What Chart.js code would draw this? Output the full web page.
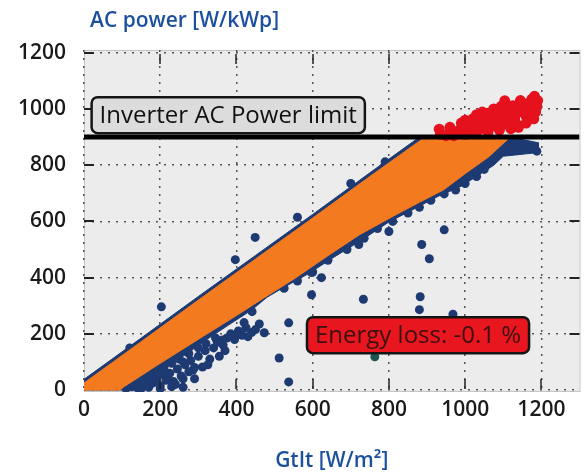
<!DOCTYPE html>
<html>
<head>
<meta charset="utf-8">
<script src="https://cdn.jsdelivr.net/npm/chart.js@4"></script>
<style>
  body { margin: 0; background: #fff; }
  #wrap { width: 585px; height: 475px; }
</style>
</head>
<body>
<div id="wrap"><canvas id="scatterChart" width="585" height="475"></canvas></div>
<script>
// tick values on both axes
const xTicks = [0, 200, 400, 600, 800, 1000, 1200];
const yTicks = [0, 200, 400, 600, 800, 1000, 1200];
const powerLimit = 900;

// outline of the dense orange band (upper edge, then lower edge back)
const orangeUpper = [[0, 25], [150, 172], [300, 320], [450, 466], [600, 612], [750, 760], [895, 900]];
const orangeLower = [[1118, 900], [1062, 830], [1000, 770], [943, 712], [880, 668], [813, 620], [722, 552], [640, 478],
    [552, 396], [480, 335], [400, 265], [311, 190], [200, 95], [104, 11], [95, 0], [0, 0]];

// outline of the blue points lying under the orange band
const blueUpper = [[0, 38], [150, 185], [300, 333], [450, 479], [600, 625], [750, 773], [880, 900]];
const blueLower = [[1118, 900], [1192, 880], [1192, 845], [1100, 832], [1075, 800], [1030, 760], [985, 722], [930, 690],
    [860, 640], [800, 598], [730, 535], [650, 468], [590, 415], [520, 362], [480, 330], [440, 285], [380, 232],
    [320, 178], [260, 120], [180, 50], [120, 0], [0, 0]];

// single blue points: band edges, lower branch and outliers
const blueEdge = [[203, 296], [397, 464], [560, 615], [120, 150], [700, 735], [790, 812],
    [525, 362], [560, 388], [600, 420], [640, 462], [690, 500], [735, 540], [770, 575], [810, 600], [850, 630],
    [880, 650], [910, 675], [945, 698], [975, 712], [1000, 735], [1030, 760], [1050, 785], [1085, 835],
    [1100, 850], [1120, 858], [1140, 852], [1160, 860], [1180, 865], [1188, 850]];
const blueBranch = [[110, 5], [125, 12], [140, 8], [150, 20], [160, 30], [170, 10], [180, 25], [190, 40], [200, 15],
    [205, 55], [215, 35], [225, 60], [235, 30], [245, 75], [255, 50], [265, 90], [275, 65], [280, 105], [290, 80],
    [300, 120], [311, 82], [318, 140], [330, 110], [340, 150], [350, 170], [355, 120], [365, 160], [375, 185],
    [385, 200], [395, 180], [405, 210], [415, 195], [425, 222], [440, 205], [450, 215], [473, 204], [290, 40],
    [240, 20], [260, 10], [200, 5], [286, 71], [180, 48], [363, 178], [430, 190], [400, 195], [370, 140],
    [325, 90], [260, 40], [230, 12], [150, 5], [130, 20], [145, 35], [165, 45], [185, 65], [210, 80], [230, 95],
    [250, 110], [195, 70], [220, 50], [170, 55], [300, 150], [275, 130], [320, 165], [260, 100], [345, 185],
    [460, 235], [420, 240]];
const blueOutliers = [[441, 279], [408, 275], [449, 543], [537, 239], [512, 114], [537, 29], [597, 339], [597, 418],
    [623, 400], [721, 518], [800, 564], [945, 570], [886, 518], [906, 467], [733, 323], [882, 332], [880, 286],
    [968, 270]];
const tealPoints = [[763, 118]];

// red points above the inverter limit
const redPoints = [[935, 910], [960, 918], [985, 925], [1005, 935], [1025, 945], [1045, 958], [1065, 970], [1085, 985],
    [1105, 1000], [1125, 1012], [1150, 1020], [1175, 1035], [1182, 1045], [970, 905], [1000, 910], [1030, 915],
    [1060, 920], [1090, 925], [1120, 930], [1040, 935], [1070, 945], [1100, 955], [1130, 965], [1160, 975],
    [1185, 990], [1080, 965], [1110, 975], [1140, 990], [1170, 1005], [1188, 1010], [1120, 990], [1150, 1000],
    [1104, 1029], [1045, 989], [932, 928], [950, 905], [1015, 920], [1050, 930], [1080, 940], [1110, 945],
    [1140, 935], [1160, 950], [1180, 965], [1165, 1020], [1130, 1000], [1095, 1010], [1060, 985], [1020, 965],
    [990, 950], [960, 935], [1000, 960], [1030, 980], [1075, 1000], [1145, 1030], [1190, 1030], [1135, 945],
    [1105, 965], [1155, 985]];

const toXY = arr => arr.map(p => ({ x: p[0], y: p[1] }));

const NAVY = '#1d3a72';
const ORANGE = '#f47a20';
const RED = '#e5111c';
const TEXT_FONT = '"Open Sans", "DejaVu Sans", sans-serif';

const chartDecor = {
    id: 'chartDecor',
    beforeDraw(chart) {
        const { ctx, chartArea: a } = chart;
        ctx.save();
        ctx.fillStyle = '#ececec';
        ctx.fillRect(a.left, a.top, a.right - a.left, a.bottom - a.top);
        ctx.strokeStyle = '#c4c4c4';
        ctx.lineWidth = 1;
        ctx.strokeRect(a.left + 0.5, a.top + 0.5, a.right - a.left, a.bottom - a.top - 1);
        ctx.restore();
    },
    afterDatasetsDraw(chart) {
        const { ctx, chartArea: a, scales } = chart;
        const xs = scales.x, ys = scales.y;
        ctx.save();
        // small inner tick marks
        ctx.strokeStyle = '#222';
        ctx.lineWidth = 2;
        yTicks.slice(1).forEach(v => {
            const py = Math.round(ys.getPixelForValue(v));
            ctx.beginPath();
            ctx.moveTo(a.left, py); ctx.lineTo(a.left + 10, py);
            ctx.moveTo(a.right - 10, py); ctx.lineTo(a.right, py);
            ctx.stroke();
        });
        ctx.lineWidth = 1.5;
        xTicks.slice(1).forEach(v => {
            const px = Math.round(xs.getPixelForValue(v));
            ctx.beginPath();
            ctx.moveTo(px, a.top + 4); ctx.lineTo(px, a.top + 14);
            ctx.moveTo(px, a.bottom - 13); ctx.lineTo(px, a.bottom - 3);
            ctx.stroke();
        });

        // labelled boxes
        const box = (text, x, y, fill, textColor) => {
            ctx.font = '24px ' + TEXT_FONT;
            const w = ctx.measureText(text).width + 16;
            const h = 36;
            const top = y - h / 2;
            ctx.beginPath();
            ctx.roundRect(x, top, w, h, 6);
            ctx.fillStyle = fill;
            ctx.fill();
            ctx.lineWidth = 2.5;
            ctx.strokeStyle = '#151515';
            ctx.stroke();
            ctx.fillStyle = textColor;
            ctx.textBaseline = 'middle';
            ctx.textAlign = 'left';
            ctx.fillText(text, x + 8, y + 1);
        };
        box('Inverter AC Power limit', xs.getPixelForValue(20), ys.getPixelForValue(978), '#dcdcdc', '#111');
        box('Energy loss: -0.1 %', xs.getPixelForValue(585), ys.getPixelForValue(195), '#e8161e', '#3a1010');

        // y axis title
        ctx.font = '600 21px ' + TEXT_FONT;
        ctx.fillStyle = '#1d4f9f';
        ctx.textAlign = 'left';
        ctx.textBaseline = 'middle';
        ctx.fillText('AC power [W/kWp]', 90, 21);
        ctx.restore();
    }
};

const fixedTicks = list => scale => {
    scale.ticks = list.map(v => ({ value: v }));
};

const tickFont = { family: TEXT_FONT, size: 21, weight: '600' };

new Chart(document.getElementById('scatterChart'), {
    type: 'scatter',
    data: {
        datasets: [
            {
                label: 'limit',
                data: [{ x: 0, y: powerLimit }, { x: 1300, y: powerLimit }],
                showLine: true,
                borderColor: '#000',
                borderWidth: 5,
                pointRadius: 0,
                order: 0,
            },
            {
                label: 'clipped',
                data: toXY(redPoints),
                backgroundColor: RED,
                borderWidth: 0,
                pointRadius: 5.5,
                order: 1,
            },
            {
                label: 'band',
                data: toXY(orangeUpper.concat(orangeLower)),
                showLine: true,
                fill: 'shape',
                backgroundColor: ORANGE,
                borderColor: ORANGE,
                borderWidth: 1,
                pointRadius: 0,
                order: 2,
            },
            {
                label: 'edge',
                data: toXY(blueEdge),
                backgroundColor: NAVY,
                borderWidth: 0,
                pointRadius: 4.5,
                order: 3,
            },
            {
                label: 'branch',
                data: toXY(blueBranch.concat(blueOutliers)),
                backgroundColor: NAVY,
                borderWidth: 0,
                pointRadius: 4.5,
                order: 3,
            },
            {
                label: 'teal',
                data: toXY(tealPoints),
                backgroundColor: '#1e5550',
                borderWidth: 0,
                pointRadius: 4.5,
                order: 3,
            },
            {
                label: 'blueBand',
                data: toXY(blueUpper.concat(blueLower)),
                showLine: true,
                fill: 'shape',
                backgroundColor: NAVY,
                borderColor: NAVY,
                borderWidth: 1,
                pointRadius: 0,
                order: 4,
            },
        ],
    },
    options: {
        responsive: false,
        animation: false,
        events: [],
        layout: { padding: { top: 50, right: 0, bottom: 0, left: 0 } },
        plugins: {
            legend: { display: false },
            tooltip: { enabled: false },
        },
        scales: {
            x: {
                type: 'linear',
                min: 0,
                max: 1300,
                afterBuildTicks: fixedTicks(xTicks),
                afterFit: s => { s.height = 83; },
                grid: { color: '#555', lineWidth: 1.5, drawTicks: false },
                border: { display: false, dash: [2, 6] },
                ticks: {
                    padding: 5,
                    color: '#1a1a1a',
                    font: tickFont,
                    maxRotation: 0,
                    autoSkip: false,
                    callback: v => String(v),
                },
                title: {
                    display: true,
                    text: 'GtIt [W/m²]',
                    color: '#1d4f9f',
                    font: { family: TEXT_FONT, size: 21, weight: '600' },
                    padding: { top: 0, bottom: 1 },
                },
            },
            y: {
                type: 'linear',
                min: -7,
                max: 1210,
                afterBuildTicks: fixedTicks(yTicks),
                afterFit: s => { s.width = 84; },
                grid: { color: '#555', lineWidth: 1.5, drawTicks: false },
                border: { display: false, dash: [2, 6] },
                ticks: {
                    padding: 18,
                    color: '#1a1a1a',
                    font: tickFont,
                    autoSkip: false,
                    callback: v => String(v),
                },
            },
        },
    },
    plugins: [chartDecor],
});
</script>
</body>
</html>
